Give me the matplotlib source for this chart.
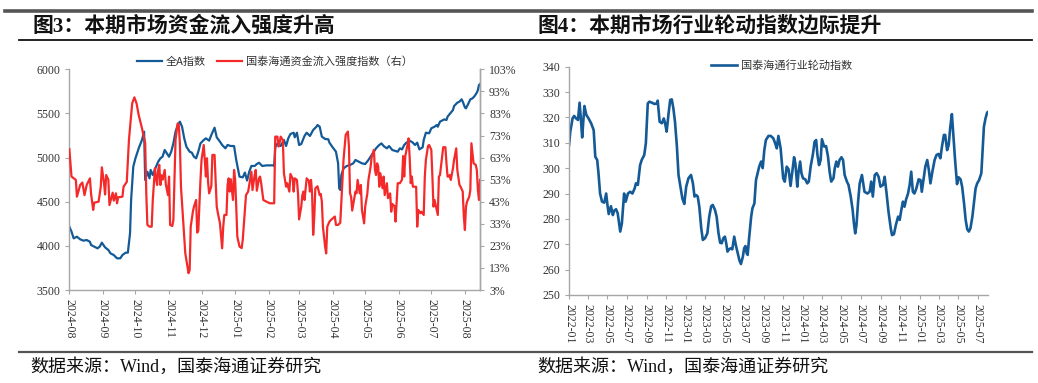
import matplotlib
matplotlib.use("Agg")
import matplotlib.pyplot as plt
import matplotlib.dates as mdates
from matplotlib.lines import Line2D
from matplotlib.ticker import FuncFormatter, FixedLocator, MultipleLocator
import pandas as pd

# 全A指数 (left axis)
index_dates = [
    "2024-08-01", "2024-08-03", "2024-08-05", "2024-08-08", "2024-08-11", "2024-08-14", "2024-08-17",
    "2024-08-20", "2024-08-21", "2024-08-24", "2024-08-27", "2024-08-29", "2024-08-31", "2024-09-03",
    "2024-09-06", "2024-09-08", "2024-09-11", "2024-09-14", "2024-09-17", "2024-09-19", "2024-09-22",
    "2024-09-24", "2024-09-26", "2024-09-27", "2024-09-29", "2024-10-01", "2024-10-04", "2024-10-07",
    "2024-10-09", "2024-10-10", "2024-10-12", "2024-10-14", "2024-10-15", "2024-10-17", "2024-10-20",
    "2024-10-22", "2024-10-24", "2024-10-26", "2024-10-28", "2024-10-30", "2024-11-01", "2024-11-03",
    "2024-11-05", "2024-11-07", "2024-11-09", "2024-11-11", "2024-11-13", "2024-11-15", "2024-11-17",
    "2024-11-20", "2024-11-22", "2024-11-24", "2024-11-26", "2024-11-28", "2024-11-30", "2024-12-03",
    "2024-12-05", "2024-12-08", "2024-12-10", "2024-12-13", "2024-12-15", "2024-12-18", "2024-12-20",
    "2024-12-23", "2024-12-25", "2024-12-28", "2024-12-31", "2025-01-02", "2025-01-05", "2025-01-08",
    "2025-01-10", "2025-01-12", "2025-01-14", "2025-01-16", "2025-01-19", "2025-01-21", "2025-01-23",
    "2025-01-26", "2025-01-30", "2025-02-05", "2025-02-06", "2025-02-07", "2025-02-09", "2025-02-12",
    "2025-02-15", "2025-02-17", "2025-02-19", "2025-02-21", "2025-02-24", "2025-02-25", "2025-02-27",
    "2025-03-01", "2025-03-03", "2025-03-06", "2025-03-08", "2025-03-11", "2025-03-14", "2025-03-17",
    "2025-03-18", "2025-03-20", "2025-03-22", "2025-03-25", "2025-03-28", "2025-03-29", "2025-04-01",
    "2025-04-04", "2025-04-06", "2025-04-07", "2025-04-08", "2025-04-09", "2025-04-11", "2025-04-14",
    "2025-04-17", "2025-04-20", "2025-04-22", "2025-04-25", "2025-04-28", "2025-05-01", "2025-05-04",
    "2025-05-06", "2025-05-09", "2025-05-11", "2025-05-14", "2025-05-16", "2025-05-18", "2025-05-21",
    "2025-05-23", "2025-05-26", "2025-05-28", "2025-05-31", "2025-06-02", "2025-06-04", "2025-06-06",
    "2025-06-08", "2025-06-11", "2025-06-14", "2025-06-16", "2025-06-18", "2025-06-20", "2025-06-23",
    "2025-06-24", "2025-06-26", "2025-06-29", "2025-07-01", "2025-07-04", "2025-07-06", "2025-07-07",
    "2025-07-09", "2025-07-13", "2025-07-15", "2025-07-16", "2025-07-19", "2025-07-21", "2025-07-22",
    "2025-07-25", "2025-07-27", "2025-07-29", "2025-07-30", "2025-08-01", "2025-08-02", "2025-08-04",
    "2025-08-06", "2025-08-08", "2025-08-10", "2025-08-12", "2025-08-13", "2025-08-14", "2025-08-15",
]
index_vals = [
    4217, 4161, 4085, 4104, 4074, 4059, 4066,
    4047, 4010, 3991, 3972, 3991, 4036, 3983,
    3953, 3915, 3896, 3859, 3859, 3896, 3923,
    3923, 4142, 4519, 4897, 4992, 5105, 5199,
    5294, 4746, 4840, 4765, 4860, 4803, 4897,
    4954, 4992, 5010, 5086, 5048, 5010, 5067,
    5161, 5294, 5369, 5407, 5350, 5218, 5124,
    5067, 5056, 5010, 4992, 5067, 5161, 5199,
    5218, 5192, 5256, 5339, 5230, 5180, 5143,
    5105, 5143, 5131, 5131, 4973, 4784, 4776,
    4830, 4740, 4840, 4905, 4905, 4927, 4942,
    4905, 4912, 4912, 4905, 5116, 5161, 5131,
    5199, 5131, 5218, 5267, 5282, 5230, 5282,
    5143, 5154, 5245, 5282, 5245, 5313, 5350,
    5369, 5350, 5237, 5211, 5207, 5169, 5116,
    5067, 4935, 4652, 4633, 4803, 4878, 4905,
    4916, 4935, 4973, 4954, 4935, 4927, 4973,
    5010, 5067, 5105, 5143, 5161, 5131, 5105,
    5131, 5086, 5078, 5067, 5105, 5093, 5143,
    5169, 5192, 5169, 5143, 5169, 5093, 5116,
    5199, 5282, 5275, 5332, 5350, 5369, 5350,
    5407, 5433, 5426, 5464, 5509, 5539, 5584,
    5622, 5634, 5660, 5634, 5569, 5558, 5607,
    5660, 5671, 5698, 5736, 5766, 5822, 5834,
]

# 国泰海通资金流入强度指数 (right axis, %)
flow_dates = [
    "2024-08-01", "2024-08-03", "2024-08-07", "2024-08-08", "2024-08-11", "2024-08-13", "2024-08-15",
    "2024-08-17", "2024-08-20", "2024-08-21", "2024-08-23", "2024-08-24", "2024-08-28", "2024-08-30",
    "2024-08-31", "2024-09-02", "2024-09-03", "2024-09-04", "2024-09-06", "2024-09-07", "2024-09-09",
    "2024-09-10", "2024-09-11", "2024-09-13", "2024-09-14", "2024-09-15", "2024-09-19", "2024-09-20",
    "2024-09-23", "2024-09-24", "2024-09-25", "2024-09-28", "2024-09-30", "2024-10-02", "2024-10-04",
    "2024-10-07", "2024-10-10", "2024-10-11", "2024-10-12", "2024-10-14", "2024-10-16", "2024-10-17",
    "2024-10-19", "2024-10-20", "2024-10-21", "2024-10-22", "2024-10-23", "2024-10-24", "2024-10-25",
    "2024-10-26", "2024-10-28", "2024-10-29", "2024-10-31", "2024-11-01", "2024-11-02", "2024-11-04",
    "2024-11-05", "2024-11-06", "2024-11-07", "2024-11-09", "2024-11-10", "2024-11-11", "2024-11-12",
    "2024-11-14", "2024-11-16", "2024-11-19", "2024-11-20", "2024-11-21", "2024-11-23", "2024-11-24",
    "2024-11-26", "2024-11-27", "2024-11-28", "2024-11-30", "2024-12-01", "2024-12-03", "2024-12-04",
    "2024-12-05", "2024-12-06", "2024-12-07", "2024-12-08", "2024-12-10", "2024-12-11", "2024-12-13",
    "2024-12-14", "2024-12-15", "2024-12-16", "2024-12-18", "2024-12-20", "2024-12-21", "2024-12-22",
    "2024-12-24", "2024-12-25", "2024-12-26", "2024-12-27", "2024-12-28", "2024-12-30", "2024-12-31",
    "2025-01-01", "2025-01-02", "2025-01-03", "2025-01-05", "2025-01-07", "2025-01-08", "2025-01-10",
    "2025-01-11", "2025-01-13", "2025-01-14", "2025-01-16", "2025-01-17", "2025-01-19", "2025-01-20",
    "2025-01-21", "2025-01-23", "2025-01-24", "2025-01-25", "2025-01-27", "2025-01-30", "2025-02-02",
    "2025-02-06", "2025-02-07", "2025-02-09", "2025-02-10", "2025-02-11", "2025-02-12", "2025-02-14",
    "2025-02-15", "2025-02-17", "2025-02-18", "2025-02-20", "2025-02-21", "2025-02-23", "2025-02-24",
    "2025-02-25", "2025-02-27", "2025-02-28", "2025-03-01", "2025-03-03", "2025-03-04", "2025-03-05",
    "2025-03-06", "2025-03-08", "2025-03-10", "2025-03-11", "2025-03-12", "2025-03-13", "2025-03-14",
    "2025-03-15", "2025-03-16", "2025-03-18", "2025-03-20", "2025-03-21", "2025-03-22", "2025-03-23",
    "2025-03-25", "2025-03-26", "2025-03-27", "2025-03-29", "2025-03-31", "2025-04-03", "2025-04-04",
    "2025-04-06", "2025-04-08", "2025-04-11", "2025-04-13", "2025-04-15", "2025-04-16", "2025-04-17",
    "2025-04-18", "2025-04-19", "2025-04-21", "2025-04-22", "2025-04-23", "2025-04-24", "2025-04-26",
    "2025-04-27", "2025-04-28", "2025-04-30", "2025-05-01", "2025-05-03", "2025-05-04", "2025-05-06",
    "2025-05-07", "2025-05-09", "2025-05-10", "2025-05-11", "2025-05-12", "2025-05-13", "2025-05-14",
    "2025-05-15", "2025-05-17", "2025-05-18", "2025-05-19", "2025-05-21", "2025-05-22", "2025-05-24",
    "2025-05-25", "2025-05-26", "2025-05-28", "2025-05-29", "2025-05-31", "2025-06-02", "2025-06-04",
    "2025-06-05", "2025-06-06", "2025-06-07", "2025-06-09", "2025-06-10", "2025-06-11", "2025-06-12",
    "2025-06-13", "2025-06-14", "2025-06-17", "2025-06-18", "2025-06-19", "2025-06-21", "2025-06-22",
    "2025-06-24", "2025-06-25", "2025-06-26", "2025-06-28", "2025-06-29", "2025-07-01", "2025-07-02",
    "2025-07-03", "2025-07-04", "2025-07-06", "2025-07-07", "2025-07-08", "2025-07-09", "2025-07-11",
    "2025-07-12", "2025-07-14", "2025-07-15", "2025-07-16", "2025-07-17", "2025-07-18", "2025-07-19",
    "2025-07-21", "2025-07-22", "2025-07-24", "2025-07-25", "2025-07-27", "2025-07-28", "2025-07-30",
    "2025-07-31", "2025-08-01", "2025-08-02", "2025-08-03", "2025-08-05", "2025-08-06", "2025-08-07",
    "2025-08-08", "2025-08-09", "2025-08-11", "2025-08-12", "2025-08-13", "2025-08-14", "2025-08-15",
]
flow_vals = [
    66.8, 54.4, 52.9, 45.3, 50.6, 51.7, 46.0,
    50.6, 53.6, 46.8, 39.3, 42.6, 43.0, 49.8,
    58.6, 51.4, 46.3, 55.1, 53.0, 41.5, 45.3,
    47.1, 43.5, 46.8, 42.3, 45.0, 45.3, 49.8,
    52.0, 62.0, 71.0, 87.6, 90.3, 87.6, 82.3,
    76.3, 69.5, 46.8, 32.5, 31.7, 31.7, 43.8,
    58.2, 53.6, 50.6, 57.4, 59.7, 50.6, 55.0,
    53.0, 57.4, 51.0, 46.0, 54.4, 32.5, 32.0,
    34.7, 52.9, 71.0, 78.5, 77.8, 69.5, 49.8,
    34.7, 19.6, 10.6, 12.0, 31.7, 38.5, 40.8,
    43.8, 29.0, 30.0, 52.9, 62.0, 68.7, 62.0,
    54.4, 62.7, 52.0, 46.8, 50.0, 64.2, 64.2,
    52.9, 40.8, 38.0, 33.2, 21.9, 31.7, 37.0,
    37.0, 50.6, 53.6, 47.6, 53.2, 43.8, 57.4,
    53.0, 40.8, 27.2, 22.7, 22.0, 25.7, 39.3,
    46.0, 47.6, 50.6, 56.6, 48.3, 55.1, 57.4,
    48.0, 53.6, 54.4, 51.4, 43.8, 43.0, 42.3,
    42.3, 72.5, 72.5, 68.0, 69.5, 72.5, 71.0,
    55.9, 49.8, 51.4, 47.6, 55.6, 53.6, 47.6,
    53.6, 52.9, 46.8, 35.0, 40.8, 46.0, 47.6,
    43.8, 53.6, 52.5, 47.6, 52.9, 46.8, 28.0,
    36.0, 49.1, 50.0, 46.0, 46.5, 43.0, 31.7,
    22.7, 19.6, 31.7, 34.0, 35.0, 36.3, 32.5,
    32.5, 33.5, 62.0, 73.3, 74.8, 68.0, 46.8,
    45.3, 39.0, 44.6, 47.6, 46.8, 52.9, 46.8,
    50.6, 39.3, 33.2, 40.8, 46.8, 52.9, 58.9,
    63.4, 66.5, 57.4, 55.1, 60.4, 58.9, 49.8,
    55.9, 49.1, 54.4, 46.0, 51.4, 44.6, 46.8,
    38.5, 42.0, 41.0, 34.0, 51.4, 51.4, 53.0,
    63.7, 54.4, 63.7, 68.7, 71.7, 63.4, 51.4,
    54.4, 49.8, 49.8, 31.7, 39.3, 37.8, 38.5,
    37.0, 54.4, 62.0, 68.3, 68.7, 66.5, 54.4,
    40.8, 43.8, 39.3, 37.0, 54.4, 55.1, 63.4,
    67.7, 67.7, 60.4, 54.4, 54.4, 55.1, 52.9,
    58.2, 62.0, 67.2, 57.4, 50.6, 49.8, 47.6,
    36.3, 30.2, 40.8, 43.0, 45.3, 48.3, 69.5,
    65.0, 60.4, 59.7, 57.4, 48.3, 43.8, 52.9,
]
flow_ticks = [3, 13, 23, 33, 43, 53, 63, 73, 83, 93, 103]

# 国泰海通行业轮动指数
rot_dates = [
    "2022-01-01", "2022-01-05", "2022-01-12", "2022-01-17", "2022-01-23", "2022-01-29", "2022-02-03",
    "2022-02-08", "2022-02-11", "2022-02-15", "2022-02-18", "2022-02-24", "2022-03-03", "2022-03-11",
    "2022-03-19", "2022-03-24", "2022-03-30", "2022-04-03", "2022-04-08", "2022-04-14", "2022-04-21",
    "2022-04-27", "2022-05-01", "2022-05-05", "2022-05-12", "2022-05-18", "2022-05-22", "2022-05-28",
    "2022-06-02", "2022-06-10", "2022-06-15", "2022-06-22", "2022-06-27", "2022-07-04", "2022-07-11",
    "2022-07-18", "2022-07-25", "2022-07-29", "2022-08-04", "2022-08-11", "2022-08-16", "2022-08-24",
    "2022-08-29", "2022-09-04", "2022-09-09", "2022-09-17", "2022-09-25", "2022-10-02", "2022-10-05",
    "2022-10-11", "2022-10-18", "2022-10-24", "2022-10-28", "2022-11-02", "2022-11-08", "2022-11-13",
    "2022-11-18", "2022-11-23", "2022-11-28", "2022-12-04", "2022-12-09", "2022-12-16", "2022-12-21",
    "2022-12-27", "2023-01-02", "2023-01-09", "2023-01-17", "2023-01-23", "2023-01-28", "2023-02-02",
    "2023-02-07", "2023-02-12", "2023-02-18", "2023-02-23", "2023-03-02", "2023-03-09", "2023-03-15",
    "2023-03-21", "2023-03-26", "2023-04-02", "2023-04-07", "2023-04-13", "2023-04-18", "2023-04-23",
    "2023-04-28", "2023-05-03", "2023-05-07", "2023-05-11", "2023-05-16", "2023-05-21", "2023-05-26",
    "2023-06-01", "2023-06-06", "2023-06-11", "2023-06-17", "2023-06-22", "2023-06-28", "2023-07-02",
    "2023-07-06", "2023-07-10", "2023-07-13", "2023-07-17", "2023-07-24", "2023-07-28", "2023-08-03",
    "2023-08-08", "2023-08-13", "2023-08-18", "2023-08-24", "2023-08-29", "2023-09-03", "2023-09-08",
    "2023-09-16", "2023-09-23", "2023-10-01", "2023-10-07", "2023-10-12", "2023-10-17", "2023-10-24",
    "2023-11-01", "2023-11-06", "2023-11-12", "2023-11-18", "2023-11-24", "2023-11-30", "2023-12-05",
    "2023-12-09", "2023-12-15", "2023-12-19", "2023-12-24", "2023-12-28", "2024-01-02", "2024-01-09",
    "2024-01-15", "2024-01-20", "2024-01-26", "2024-02-02", "2024-02-07", "2024-02-12", "2024-02-16",
    "2024-02-21", "2024-02-26", "2024-03-01", "2024-03-08", "2024-03-14", "2024-03-20", "2024-03-25",
    "2024-03-30", "2024-04-06", "2024-04-10", "2024-04-15", "2024-04-20", "2024-04-25", "2024-05-01",
    "2024-05-06", "2024-05-11", "2024-05-18", "2024-05-23", "2024-05-30", "2024-06-05", "2024-06-09",
    "2024-06-13", "2024-06-17", "2024-06-22", "2024-06-27", "2024-07-04", "2024-07-08", "2024-07-12",
    "2024-07-21", "2024-07-28", "2024-08-02", "2024-08-07", "2024-08-13", "2024-08-19", "2024-08-25",
    "2024-08-31", "2024-09-08", "2024-09-13", "2024-09-19", "2024-09-25", "2024-10-02", "2024-10-06",
    "2024-10-12", "2024-10-18", "2024-10-25", "2024-10-30", "2024-11-04", "2024-11-09", "2024-11-14",
    "2024-11-19", "2024-11-25", "2024-11-30", "2024-12-05", "2024-12-10", "2024-12-15", "2024-12-21",
    "2024-12-28", "2025-01-03", "2025-01-07", "2025-01-12", "2025-01-18", "2025-01-24", "2025-01-29",
    "2025-02-03", "2025-02-09", "2025-02-16", "2025-02-22", "2025-02-28", "2025-03-06", "2025-03-11",
    "2025-03-17", "2025-03-21", "2025-03-27", "2025-04-01", "2025-04-06", "2025-04-11", "2025-04-16",
    "2025-04-21", "2025-04-27", "2025-05-02", "2025-05-08", "2025-05-13", "2025-05-19", "2025-05-24",
    "2025-05-29", "2025-06-03", "2025-06-08", "2025-06-14", "2025-06-19", "2025-06-24", "2025-06-29",
    "2025-07-05", "2025-07-12", "2025-07-17", "2025-07-20", "2025-07-25", "2025-07-30", "2025-08-03",
]
rot_vals = [
    309.1, 314.4, 319.6, 320.6, 319.6, 319.0, 325.8,
    317.7, 312.1, 319.0, 324.5, 321.0, 319.6, 317.7,
    315.0, 304.5, 303.2, 298.0, 290.0, 286.8, 286.4,
    290.0, 285.5, 281.9, 285.0, 281.5, 283.2, 283.8,
    282.2, 275.0, 278.2, 290.0, 286.8, 290.0, 290.7,
    290.0, 292.0, 294.0, 293.4, 301.2, 303.2, 305.2,
    309.8, 325.5, 326.2, 325.8, 325.3, 325.5, 326.6,
    318.3, 317.7, 319.6, 317.7, 314.4, 321.6, 326.9,
    327.1, 323.5, 318.3, 308.5, 297.3, 292.0, 288.1,
    285.9, 292.7, 296.0, 297.3, 294.0, 288.8, 289.4,
    288.8, 284.8, 276.3, 271.7, 272.4, 274.3, 280.9,
    285.0, 285.5, 283.5, 280.9, 274.3, 270.6, 270.4,
    272.4, 273.0, 270.4, 267.1, 268.0, 268.4, 268.0,
    273.0, 269.7, 267.1, 263.8, 262.2, 265.1, 268.4,
    269.3, 266.4, 265.8, 271.7, 280.9, 284.2, 286.1,
    295.3, 298.0, 300.6, 302.6, 300.0, 307.1, 311.1,
    312.7, 312.7, 311.8, 309.8, 307.8, 312.7, 307.8,
    296.0, 294.7, 300.6, 299.5, 293.0, 299.3, 304.3,
    301.9, 292.7, 298.6, 302.6, 298.0, 296.0, 295.6,
    294.0, 294.7, 300.8, 305.6, 310.4, 311.1, 305.2,
    301.2, 303.2, 311.4, 308.5, 308.7, 304.5, 298.6,
    294.7, 296.0, 299.9, 302.6, 300.6, 303.2, 304.3,
    303.2, 297.3, 294.7, 293.4, 288.8, 283.5, 278.2,
    274.3, 277.6, 286.8, 294.0, 297.3, 294.0, 290.7,
    290.0, 290.7, 294.7, 288.8, 297.3, 298.0, 296.6,
    292.7, 293.4, 296.6, 290.0, 282.8, 276.3, 273.6,
    274.0, 277.6, 280.9, 279.6, 283.5, 286.8, 284.8,
    287.7, 290.0, 293.4, 298.6, 290.7, 290.0, 292.0,
    295.6, 295.3, 290.7, 295.3, 300.6, 303.2, 299.3,
    294.0, 298.6, 303.2, 305.2, 305.6, 303.9, 308.5,
    313.1, 313.1, 307.1, 309.1, 316.3, 321.3, 312.4,
    303.2, 293.7, 296.4, 295.6, 292.7, 286.1, 279.6,
    275.9, 275.0, 276.3, 280.9, 286.4, 292.0, 294.0,
    295.3, 298.0, 309.8, 316.3, 319.6, 321.9, 322.3,
]

BLUE = "#145A96"
RED = "#F42A2A"
SPINE = "#A6A6A6"
TICK_FONT = ["Liberation Serif", "Noto Sans CJK SC"]
CJK_FONT = ["Noto Sans CJK SC", "DejaVu Sans"]
TEXT_FONT = ["Liberation Serif", "Noto Sans CJK SC"]


def style_axis(ax):
    for side in ("top", "right", "left", "bottom"):
        ax.spines[side].set_color(SPINE)
        ax.spines[side].set_linewidth(1.0)
    ax.spines["top"].set_visible(False)
    ax.tick_params(axis="both", direction="out", length=3, width=0.8, color=SPINE,
                   labelsize=8.5, labelcolor="#333333")
    for lab in ax.get_xticklabels() + ax.get_yticklabels():
        lab.set_fontfamily(TICK_FONT)


def draw_flow_chart(fig):
    ax = fig.add_axes([0.0668, 0.2428, 0.3957, 0.5762])
    ax2 = ax.twinx()
    d1 = pd.to_datetime(index_dates)
    d2 = pd.to_datetime(flow_dates)
    l1, = ax.plot(d1, index_vals, color=BLUE, lw=1.6, solid_joinstyle="round")
    l2, = ax2.plot(d2, flow_vals, color=RED, lw=1.6, solid_joinstyle="round")

    ax.set_xlim(pd.Timestamp("2024-08-01"), pd.Timestamp("2025-08-15"))
    ax.set_ylim(3500, 6000)
    ax.yaxis.set_major_locator(MultipleLocator(500))
    ax2.set_ylim(3, 103)
    ax2.yaxis.set_major_locator(FixedLocator(flow_ticks))
    ax2.yaxis.set_major_formatter(FuncFormatter(lambda v, _: f"{v:.0f}%"))
    ax.xaxis.set_major_locator(mdates.MonthLocator())
    ax.xaxis.set_major_formatter(mdates.DateFormatter("%Y-%m"))
    style_axis(ax)
    style_axis(ax2)
    ax2.spines["left"].set_visible(False)
    ax2.spines["bottom"].set_visible(False)
    for lab in ax.get_xticklabels():
        lab.set_rotation(-90)

    leg = ax.legend([l1, l2], ["全A指数", "国泰海通资金流入强度指数（右）"], loc="center",
                    bbox_to_anchor=(0.5, 1.035), ncol=2, frameon=False, handlelength=2.3,
                    columnspacing=1.0, handletextpad=0.3, prop={"family": CJK_FONT, "size": 8})
    for t in leg.get_texts():
        t.set_color("#333333")


def draw_rotation_chart(fig):
    ax = fig.add_axes([0.5482, 0.2298, 0.404, 0.5961])
    d = pd.to_datetime(rot_dates)
    ln, = ax.plot(d, rot_vals, color=BLUE, lw=1.9, solid_joinstyle="round")
    ax.set_xlim(d[0], d[-1])
    ax.set_ylim(250, 340)
    ax.yaxis.set_major_locator(MultipleLocator(10))
    ax.xaxis.set_major_locator(mdates.MonthLocator(bymonth=[1, 3, 5, 7, 9, 11]))
    ax.xaxis.set_major_formatter(mdates.DateFormatter("%Y-%m"))
    style_axis(ax)
    ax.spines["right"].set_visible(False)
    for lab in ax.get_xticklabels():
        lab.set_rotation(-90)
    leg = ax.legend([ln], ["国泰海通行业轮动指数"], loc="center", bbox_to_anchor=(0.506, 1.007),
                    frameon=False, handlelength=2.4, handletextpad=0.3,
                    prop={"family": CJK_FONT, "size": 8})
    for t in leg.get_texts():
        t.set_color("#333333")


def draw_frame(fig):
    W, H = 1038, 383
    rules = ((5, 11, 2.6, "#555555"), (19, 40, 1.3, "#111111"), (19, 352, 1.6, "#555555"))
    for x0, y, lw, color in rules:
        fig.add_artist(Line2D([x0 / W, 1032 / W], [1 - y / H, 1 - y / H], lw=lw, color=color,
                              transform=fig.transFigure))
    fig.text(32 / W, 1 - 26 / H, "图3：本期市场资金流入强度升高", fontsize=15, fontweight="bold",
             family=TEXT_FONT, va="center", ha="left", color="#111111")
    fig.text(538 / W, 1 - 26 / H, "图4：本期市场行业轮动指数边际提升", fontsize=15, fontweight="bold",
             family=TEXT_FONT, va="center", ha="left", color="#111111")
    fig.text(30 / W, 1 - 367 / H, "数据来源：Wind，国泰海通证券研究", fontsize=13,
             family=TEXT_FONT, va="center", ha="left", color="#111111")
    fig.text(537 / W, 1 - 367 / H, "数据来源：Wind，国泰海通证券研究", fontsize=13,
             family=TEXT_FONT, va="center", ha="left", color="#111111")


def main() -> None:
    fig = plt.figure(figsize=(10.38, 3.83), dpi=100)
    draw_flow_chart(fig)
    draw_rotation_chart(fig)
    draw_frame(fig)
    fig.savefig("out.png", dpi=100)
    plt.close(fig)


if __name__ == "__main__":
    main()
